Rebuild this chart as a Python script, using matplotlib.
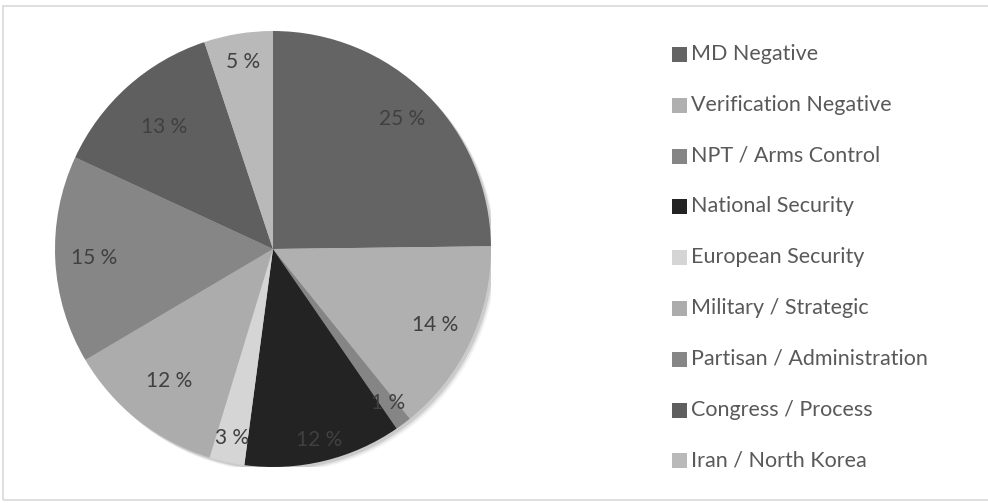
import matplotlib.pyplot as plt
import numpy as np
from matplotlib.patches import Rectangle, Circle

plt.rcParams['font.family'] = ['Lato', 'DejaVu Sans']

# datos
categorias = ["MD Negative", "Verification Negative", "NPT / Arms Control",
              "National Security", "European Security", "Military / Strategic",
              "Partisan / Administration", "Congress / Process", "Iran / North Korea"]
valores = [24.8, 14.4, 1.2, 11.7, 2.6, 11.8, 15.4, 13.0, 5.1]
colores = ["#646464", "#b0b0b0", "#858585", "#232323", "#d5d5d5",
           "#acacac", "#868686", "#5f5f5f", "#b9b9b9"]

# distancia de cada etiqueta al centro (como en el original)
dist_etiquetas = [0.84, 0.82, 0.88, 0.90, 0.885, 0.77, 0.82, 0.75, 0.87]

fig = plt.figure(figsize=(9.88, 5.03), dpi=100)

# marco gris claro
fig.patches.append(Rectangle((3 / 988, 3 / 503), 990 / 988, 494 / 503,
                             transform=fig.transFigure, fill=False,
                             edgecolor="#d9d9d9", linewidth=1.2))

ax = fig.add_axes([55 / 988, 36 / 503, 436 / 988, 436 / 503])

# sombra suave
for i, a in enumerate([0.10, 0.07, 0.04]):
    ax.add_patch(Circle((0.012 + i * 0.006, -0.012 - i * 0.006), 1.0,
                        color="black", alpha=a, zorder=0, linewidth=0))

wedges, textos, pcts = ax.pie(valores, colors=colores, startangle=90, counterclock=False,
                              autopct=lambda p: "%d %%" % round(p), pctdistance=0.82,
                              wedgeprops=dict(linewidth=0), radius=1.0)
for w, t, d in zip(wedges, pcts, dist_etiquetas):
    ang = np.deg2rad((w.theta1 + w.theta2) / 2)
    t.set_position((d * np.cos(ang), d * np.sin(ang)))
    t.set_color("#404040")
    t.set_fontsize(15)
ax.set_xlim(-1.0, 1.0)
ax.set_ylim(-1.0, 1.0)
ax.set_aspect("equal")
ax.axis("off")

# leyenda manual
y0 = 54
paso = 50.8
for i, (c, col) in enumerate(zip(categorias, colores)):
    y = y0 + i * paso
    fig.patches.append(Rectangle((672 / 988, 1 - (y + 8) / 503), 15 / 988, 15 / 503,
                                 transform=fig.transFigure, facecolor=col, edgecolor="none"))
    fig.text(691 / 988, 1 - y / 503, c, fontsize=15.5, color="#595959", va="center", ha="left")

fig.savefig("out.png", dpi=100)
